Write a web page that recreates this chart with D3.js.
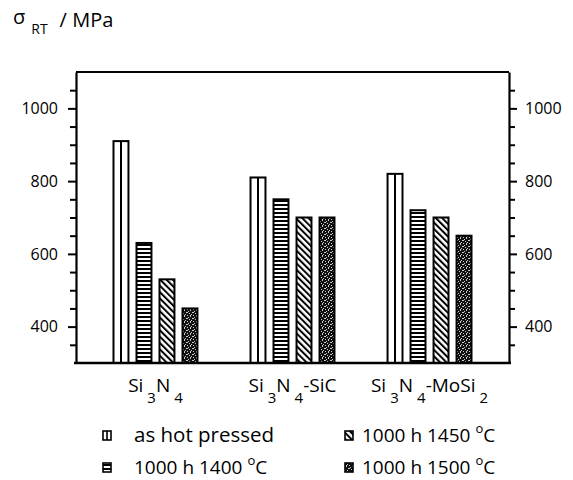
<!DOCTYPE html>
<html>
<head>
<meta charset="utf-8">
<script src="https://cdn.jsdelivr.net/npm/d3@7"></script>
<style>
  body { margin: 0; background: #fff; }
  svg { display: block; }
  text { font-family: "Open Sans", "Noto Sans", sans-serif; fill: #000; }
</style>
</head>
<body>
<svg id="chart" width="573" height="480"></svg>
<script>
// ---- data ----
const categories = ["Si3N4", "Si3N4-SiC", "Si3N4-MoSi2"];
const seriesNames = ["as hot pressed", "1000 h 1400 °C", "1000 h 1450 °C", "1000 h 1500 °C"];
const asHotPressed = [910, 810, 820];
const h1400 = [630, 750, 720];
const h1450 = [530, 700, 700];
const h1500 = [450, 700, 650];
const majorTicks = [400, 600, 800, 1000];
const yDomain = [300, 1100];

const seriesValues = [asHotPressed, h1400, h1450, h1500];
const patternIds = ["pVert", "pHoriz", "pDiag", "pStipple"];

const svg = d3.select("#chart");
const mLeft = 76, mRight = 509, mTop = 72, mBottom = 363;

// ---- patterns ----
const defs = svg.append("defs");
const ph = defs.append("pattern").attr("id", "pHoriz").attr("patternUnits", "userSpaceOnUse")
  .attr("width", 4).attr("height", 4);
ph.append("rect").attr("width", 4).attr("height", 4).attr("fill", "#fff");
ph.append("rect").attr("width", 4).attr("height", 2).attr("fill", "#000");
const pd = defs.append("pattern").attr("id", "pDiag").attr("patternUnits", "userSpaceOnUse")
  .attr("width", 4.5).attr("height", 4.5).attr("patternTransform", "rotate(-45)");
pd.append("rect").attr("width", 4.5).attr("height", 4.5).attr("fill", "#fff");
pd.append("rect").attr("width", 2).attr("height", 4.5).attr("fill", "#000");
const ps = defs.append("pattern").attr("id", "pStipple").attr("patternUnits", "userSpaceOnUse")
  .attr("width", 6).attr("height", 6);
ps.append("rect").attr("width", 6).attr("height", 6).attr("fill", "#111");
[[0,0],[3,1],[1,3],[4,4],[2,5],[5,2],[1,0],[4,3]].forEach(([x,y]) =>
  ps.append("rect").attr("x", x).attr("y", y).attr("width", 1).attr("height", 1).attr("fill", "#ccc"));
const pv = defs.append("pattern").attr("id", "pVert").attr("patternUnits", "userSpaceOnUse")
  .attr("width", 4).attr("height", 4);
pv.append("rect").attr("width", 4).attr("height", 4).attr("fill", "#fff");

// ---- scales ----
const y = d3.scaleLinear().domain(yDomain).range([mBottom, mTop]);
const x0 = d3.scalePoint().domain(categories).range([mLeft, mRight]).padding(0.58);
const x1 = d3.scaleBand().domain(d3.range(seriesNames.length)).range([-46, 46])
  .paddingInner(0.35).paddingOuter(0.175);

// ---- bars ----
const barData = [];
categories.forEach((c, ci) => {
  seriesValues.forEach((vals, si) => barData.push({ c, si, v: vals[ci] }));
});
const bars = svg.append("g");
bars.selectAll("rect").data(barData).join("rect")
  .attr("x", d => x0(d.c) + x1(d.si))
  .attr("y", d => y(d.v))
  .attr("width", x1.bandwidth())
  .attr("height", d => y(yDomain[0]) - y(d.v))
  .attr("fill", d => `url(#${patternIds[d.si]})`)
  .attr("stroke", "#000").attr("stroke-width", 2);
bars.selectAll("line.mid").data(barData.filter(d => d.si === 0)).join("line")
  .attr("class", "mid")
  .attr("x1", d => x0(d.c) + x1(d.si) + x1.bandwidth() / 2)
  .attr("x2", d => x0(d.c) + x1(d.si) + x1.bandwidth() / 2)
  .attr("y1", d => y(d.v)).attr("y2", y(yDomain[0]))
  .attr("stroke", "#000").attr("stroke-width", 2);

// ---- frame & axes ----
const frame = svg.append("g").attr("stroke", "#000").attr("stroke-width", 2.2);
frame.append("line").attr("x1", mLeft).attr("x2", mRight).attr("y1", mTop).attr("y2", mTop);
frame.append("line").attr("x1", mLeft - 2).attr("x2", mRight + 2).attr("y1", mBottom).attr("y2", mBottom).attr("stroke-width", 2.6);

const minorTicks = d3.range(yDomain[0] + 50, yDomain[1], 50).filter(v => !majorTicks.includes(v));

function styleAxis(g) {
  g.select(".domain").attr("stroke-width", 2.2);
  g.selectAll(".tick line").attr("stroke-width", 2);
  g.selectAll(".tick text").attr("font-size", 16).attr("font-family", '"Open Sans", sans-serif');
}
const fmt = d3.format("d");
const yLeft = svg.append("g").attr("transform", `translate(${mLeft},0)`)
  .call(d3.axisLeft(y).tickValues(majorTicks).tickFormat(fmt).tickSize(8).tickSizeOuter(0).tickPadding(10));
styleAxis(yLeft);
svg.append("g").attr("transform", `translate(${mLeft},0)`)
  .call(d3.axisLeft(y).tickValues(minorTicks).tickSize(6).tickFormat(""))
  .call(g => { g.select(".domain").remove(); g.selectAll(".tick line").attr("stroke-width", 2); });

const yRight = svg.append("g").attr("transform", `translate(${mRight},0)`)
  .call(d3.axisRight(y).tickValues(majorTicks).tickFormat(fmt).tickSize(8).tickSizeOuter(0).tickPadding(8));
styleAxis(yRight);
svg.append("g").attr("transform", `translate(${mRight},0)`)
  .call(d3.axisRight(y).tickValues(minorTicks).tickSize(6).tickFormat(""))
  .call(g => { g.select(".domain").remove(); g.selectAll(".tick line").attr("stroke-width", 2); });

// ---- category labels (with subscripts) ----
function chemParts(name) {
  return name.match(/[0-9]+|[^0-9]+/g).map(s => ({ s, sub: /^[0-9]+$/.test(s) }));
}
const catG = svg.append("g");
categories.forEach(c => {
  const t = catG.append("text").attr("x", x0(c)).attr("y", 392)
    .attr("text-anchor", "middle").attr("font-size", 19);
  let prevSub = false;
  chemParts(c).forEach(p => {
    if (p.sub) {
      t.append("tspan").attr("dx", 4).attr("dy", 11).attr("font-size", 15).text(p.s);
      prevSub = true;
    } else {
      const ts = t.append("tspan").text(p.s);
      if (prevSub) ts.attr("dy", -11);
      prevSub = false;
    }
  });
});

// ---- title ----
const title = svg.append("text").attr("x", 13).attr("y", 24).attr("font-size", 20);
title.append("tspan").text("σ");
title.append("tspan").attr("dx", 6).attr("dy", 10).attr("font-size", 14).text("RT");
title.append("tspan").attr("dx", 12).attr("dy", -7).text("/ MPa");

// ---- legend ----
const legendPos = [
  { sx: 103, tx: 134, y: 442 },
  { sx: 103, tx: 134, y: 474 },
  { sx: 345, tx: 362, y: 442 },
  { sx: 345, tx: 362, y: 474 }
];
const legend = svg.append("g");
seriesNames.forEach((name, i) => {
  const p = legendPos[i];
  legend.append("rect").attr("x", p.sx).attr("y", p.y - 11).attr("width", 8).attr("height", 9)
    .attr("fill", `url(#${patternIds[i]})`).attr("stroke", "#000").attr("stroke-width", 1.6);
  if (i === 0) {
    legend.append("line").attr("x1", p.sx + 4).attr("x2", p.sx + 4)
      .attr("y1", p.y - 11).attr("y2", p.y - 2).attr("stroke", "#000").attr("stroke-width", 1.6);
  }
  const t = legend.append("text").attr("x", p.tx).attr("y", p.y).attr("font-size", 19);
  const m = name.match(/^(.*) °C$/);
  if (m) {
    t.append("tspan").text(m[1] + " ");
    t.append("tspan").attr("dy", -9).attr("font-size", 13).text("o");
    t.append("tspan").attr("dy", 9).text("C");
  } else {
    t.append("tspan").attr("font-size", 20.5).text(name);
  }
});
</script>
</body>
</html>
